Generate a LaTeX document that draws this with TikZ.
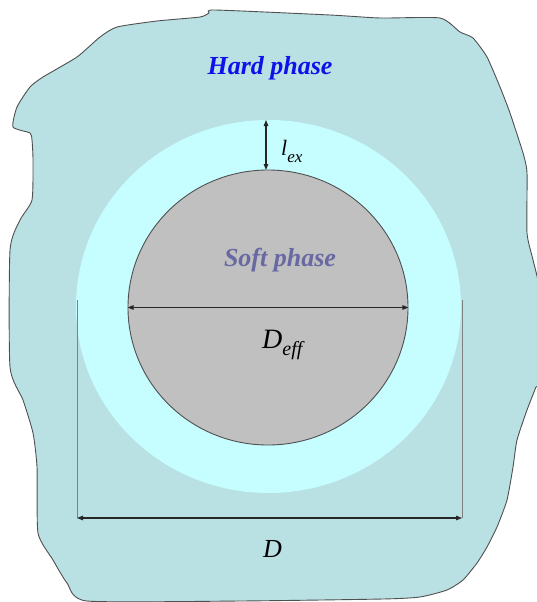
\documentclass[tikz,border=0pt]{standalone}
\usepackage{fontspec}
\setmainfont{Liberation Serif}
\usetikzlibrary{arrows.meta,shapes.geometric}
\definecolor{hardc}{HTML}{B9E0E3}
\definecolor{ringc}{HTML}{C6FDFF}
\definecolor{softc}{HTML}{C0C0C0}
\definecolor{hardtxt}{HTML}{1010E8}
\definecolor{softtxt}{HTML}{6868A2}
\definecolor{edgec}{HTML}{505050}
\begin{document}
\begin{tikzpicture}[x=1pt,y=-1pt,
  phase/.style={font=\fontsize{26}{30}\selectfont\bfseries\itshape, inner sep=0pt},
  dim/.style={draw=black!85, line width=1.1pt, {Triangle[length=6pt,width=4.5pt]}-{Triangle[length=6pt,width=4.5pt]}},
  ext/.style={draw=black!50, line width=0.6pt},
  sym/.style={inner sep=0pt, anchor=base west}]
\useasboundingbox (0,0) rectangle (536,602);
% hard phase region
\draw[fill=hardc, draw=edgec, line width=0.9pt]
  plot[smooth cycle, tension=0.35] coordinates {
  (215,10) (330,15) (380,18) (440,18) (460,32) (473,38) (487,57) (500,87)
  (510,113) (523,153) (527,173) (527,233) (533,260) (539,290) (539,380)
  (536,387) (527,410) (517,440) (513,467) (507,500) (497,527) (487,547)
  (477,563) (463,580) (447,590) (420,597) (383,599) (240,601) (87,601)
  (67,583) (53,560) (38,533) (37,467) (33,433) (23,400) (10,367) (10,250)
  (20,220) (32,200) (33,160) (32,140) (30,133) (13,127) (17,107) (30,87)
  (43,77) (77,57) (100,37) (117,27) (157,21) (200,17) (209,13)};
% exchange-length ring
\node[ellipse, fill=ringc, minimum width=385pt, minimum height=373pt, inner sep=0pt] (ring) at (268.5,306.5) {};
% soft phase
\node[ellipse, fill=softc, draw=edgec, line width=0.9pt, minimum width=280pt, minimum height=275pt, inner sep=0pt] (soft) at (268,307.5) {};
% labels
\node[phase, text=hardtxt] (hard) at (270,68) {Hard phase};
\node[phase, text=softtxt] (softlbl) at (280,260) {Soft phase};
% l_ex arrow
\coordinate (lt) at (266,120);
\coordinate (lb) at (266,170);
\draw[dim] (lt) -- (lb);
\node[sym] (lex) at (281,155) {\fontsize{22}{24}\selectfont\itshape l\raisebox{-0.36em}{\fontsize{17}{18}\selectfont ex}};
% D_eff arrow
\draw[dim] (soft.west) -- (soft.east);
\node[sym] (deff) at (262,348) {\fontsize{28}{30}\selectfont\itshape D\raisebox{-0.25em}{\fontsize{20}{22}\selectfont eff}};
% D dimension
\coordinate (vl) at (77,300);
\coordinate (vr) at (462,300);
\coordinate (dl) at (77,518);
\coordinate (dr) at (462,518);
\draw[ext] (vl) -- (dl);
\draw[ext] (vr) -- (dr);
\draw[dim] (dl) -- (dr);
\node[sym] (dd) at (263,557) {\fontsize{26}{28}\selectfont\itshape D};
\end{tikzpicture}
\end{document}
